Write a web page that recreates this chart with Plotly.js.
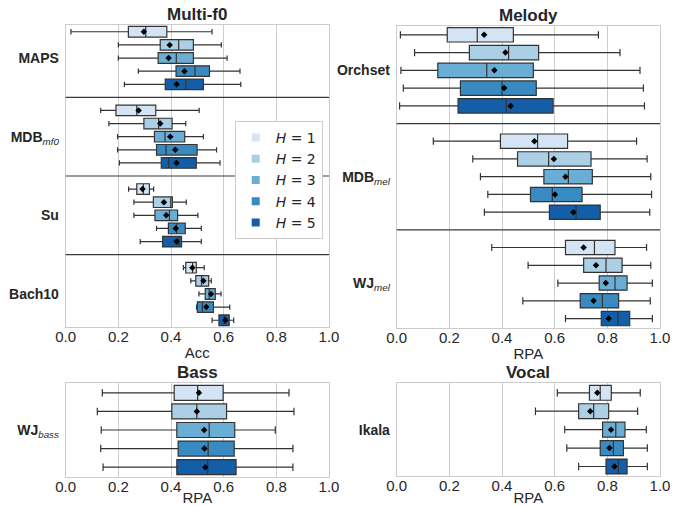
<!DOCTYPE html>
<html>
<head>
<meta charset="utf-8">
<script src="https://cdn.plot.ly/plotly-3.0.1.min.js"></script>
<style>html,body{margin:0;padding:0;background:#fff;}#chart{width:679px;height:506px;}</style>
</head>
<body>
<div id="chart"></div>
<script>
// ---------- data ----------
const hueNames = ['<i>H</i> = 1', '<i>H</i> = 2', '<i>H</i> = 3', '<i>H</i> = 4', '<i>H</i> = 5'];
const hueColors = ['#d4e4f4', '#abcfe5', '#6aaed6', '#3a8ac2', '#135ea6'];

// Multi-f0 (Acc)
const mf0Cats = ['<b>MAPS</b>', '<b>MDB</b><sub><i>mf0</i></sub>', '<b>Su</b>', '<b>Bach10</b>'];
// each row = one H, each column = one category
const mf0Lo   = [[0.020, 0.133, 0.239, 0.447], [0.200, 0.164, 0.259, 0.475], [0.200, 0.197, 0.259, 0.506], [0.276, 0.197, 0.345, 0.497], [0.223, 0.204, 0.283, 0.556]];
const mf0Q1   = [[0.238, 0.191, 0.270, 0.456], [0.359, 0.297, 0.333, 0.494], [0.351, 0.337, 0.339, 0.530], [0.419, 0.345, 0.390, 0.500], [0.378, 0.363, 0.368, 0.582]];
const mf0Med  = [[0.304, 0.270, 0.295, 0.482], [0.429, 0.353, 0.399, 0.516], [0.420, 0.377, 0.394, 0.545], [0.491, 0.381, 0.421, 0.519], [0.457, 0.391, 0.430, 0.602]];
const mf0Q3   = [[0.384, 0.342, 0.318, 0.496], [0.485, 0.404, 0.405, 0.543], [0.485, 0.452, 0.425, 0.568], [0.546, 0.499, 0.454, 0.561], [0.523, 0.496, 0.440, 0.621]];
const mf0Hi   = [[0.556, 0.507, 0.334, 0.526], [0.591, 0.456, 0.458, 0.553], [0.613, 0.523, 0.502, 0.590], [0.662, 0.573, 0.515, 0.623], [0.665, 0.586, 0.515, 0.638]];
const mf0Mean = [[0.297, 0.277, 0.292, 0.481], [0.395, 0.359, 0.373, 0.523], [0.391, 0.397, 0.382, 0.552], [0.451, 0.416, 0.418, 0.534], [0.421, 0.421, 0.421, 0.606]];

// Melody (RPA)
const melCats = ['<b>Orchset</b>', '<b>MDB</b><sub><i>mel</i></sub>', '<b>WJ</b><sub><i>mel</i></sub>'];
const melLo   = [[0.014, 0.139, 0.361], [0.068, 0.289, 0.499], [0.016, 0.318, 0.612], [0.025, 0.346, 0.479], [0.011, 0.333, 0.641]];
const melQ1   = [[0.192, 0.394, 0.641], [0.276, 0.459, 0.710], [0.156, 0.559, 0.769], [0.242, 0.508, 0.697], [0.233, 0.580, 0.777]];
const melMed  = [[0.306, 0.535, 0.751], [0.425, 0.577, 0.795], [0.342, 0.652, 0.829], [0.400, 0.591, 0.781], [0.416, 0.681, 0.840]];
const melQ3   = [[0.443, 0.649, 0.829], [0.539, 0.738, 0.856], [0.519, 0.743, 0.875], [0.530, 0.704, 0.843], [0.594, 0.773, 0.885]];
const melHi   = [[0.766, 0.911, 0.949], [0.848, 0.951, 0.965], [0.924, 0.965, 0.971], [0.937, 0.968, 0.963], [0.941, 0.961, 0.971]];
const melMean = [[0.332, 0.523, 0.710], [0.413, 0.597, 0.757], [0.371, 0.641, 0.794], [0.408, 0.601, 0.748], [0.433, 0.671, 0.805]];

// Bass (RPA)
const bassCats = ['<b>WJ</b><sub><i>bass</i></sub>'];
const bassLo   = [[0.139], [0.120], [0.135], [0.133], [0.142]];
const bassQ1   = [[0.412], [0.403], [0.422], [0.427], [0.422]];
const bassMed  = [[0.501], [0.498], [0.545], [0.541], [0.539]];
const bassQ3   = [[0.598], [0.611], [0.642], [0.640], [0.647]];
const bassHi   = [[0.848], [0.867], [0.796], [0.863], [0.863]];
const bassMean = [[0.506], [0.498], [0.526], [0.527], [0.530]];

// Vocal (RPA)
const vocCats = ['<b>Ikala</b>'];
const vocLo   = [[0.610], [0.527], [0.638], [0.646], [0.691]];
const vocQ1   = [[0.732], [0.691], [0.782], [0.773], [0.795]];
const vocMed  = [[0.773], [0.748], [0.832], [0.823], [0.842]];
const vocQ3   = [[0.815], [0.805], [0.867], [0.861], [0.875]];
const vocHi   = [[0.925], [0.915], [0.948], [0.952], [0.952]];
const vocMean = [[0.762], [0.735], [0.814], [0.808], [0.827]];

// ---------- build ----------
const HUE_STEP = 0.167;   // dodge spacing in category units
const BOX_W = 0.135;      // box thickness in category units
const LINE = '#333333';
const TXT = '#262626';
const FONT = 'Liberation Sans, Arial, sans-serif';

const panels = [
  {ax: '', cats: mf0Cats, lo: mf0Lo, q1: mf0Q1, med: mf0Med, q3: mf0Q3, hi: mf0Hi, mean: mf0Mean, title: 'Multi-f0', xt: 'Acc',
   dx: [65.7, 329], dy: [25, 327]},
  {ax: '2', cats: melCats, lo: melLo, q1: melQ1, med: melMed, q3: melQ3, hi: melHi, mean: melMean, title: 'Melody', xt: 'RPA',
   dx: [396.7, 660], dy: [25.7, 327.7]},
  {ax: '3', cats: bassCats, lo: bassLo, q1: bassQ1, med: bassMed, q3: bassQ3, hi: bassHi, mean: bassMean, title: 'Bass', xt: 'RPA',
   dx: [65.7, 329], dy: [383.3, 476.7]},
  {ax: '4', cats: vocCats, lo: vocLo, q1: vocQ1, med: vocMed, q3: vocQ3, hi: vocHi, mean: vocMean, title: 'Vocal', xt: 'RPA',
   dx: [396.7, 660], dy: [383.3, 476]}
];

const W = 679, H = 506;
const traces = [];
const layout = {
  width: W, height: H,
  margin: {l: 0, r: 0, t: 0, b: 0},
  paper_bgcolor: '#ffffff', plot_bgcolor: '#ffffff',
  showlegend: true,
  font: {family: FONT, color: TXT, size: 15},
  shapes: [], annotations: [],
  legend: {
    x: 234.7 / W, y: 1 - 121 / H, xanchor: 'left', yanchor: 'top',
    bgcolor: '#ffffff', bordercolor: '#cccccc', borderwidth: 1,
    font: {family: 'DejaVu Sans, sans-serif', size: 14, color: TXT},
    itemwidth: 30, tracegroupgap: 0
  }
};

panels.forEach(p => {
  const xa = 'x' + p.ax, ya = 'y' + p.ax;
  const n = p.cats.length;
  for (let h = 0; h < 5; h++) {
    const pos = p.cats.map((c, i) => i + (h - 2) * HUE_STEP);
    traces.push({
      type: 'box', orientation: 'h', xaxis: xa, yaxis: ya,
      y: pos, q1: p.q1[h], median: p.med[h], q3: p.q3[h],
      lowerfence: p.lo[h], upperfence: p.hi[h],
      width: BOX_W, whiskerwidth: 0.5,
      fillcolor: hueColors[h], line: {color: LINE, width: 1.2},
      boxpoints: false, showlegend: false, hoverinfo: 'skip'
    });
    traces.push({
      type: 'scatter', mode: 'markers', xaxis: xa, yaxis: ya,
      x: p.mean[h], y: pos,
      marker: {symbol: 'diamond', size: 5, color: '#000000'},
      showlegend: false, hoverinfo: 'skip'
    });
  }
  const xkey = 'xaxis' + p.ax, ykey = 'yaxis' + p.ax;
  layout[xkey] = {
    domain: [p.dx[0] / W, p.dx[1] / W], anchor: ya,
    range: [0, 1], dtick: 0.2, tick0: 0, tickformat: '.1f',
    showgrid: true, gridcolor: '#cccccc', gridwidth: 1,
    zeroline: false, showline: true, mirror: true, linecolor: '#cccccc', linewidth: 1,
    ticks: '', ticklabelstandoff: -4, tickfont: {family: FONT, size: 15, color: TXT},
    title: {text: p.xt, font: {family: FONT, size: 15, color: TXT}, standoff: 3}
  };
  layout[ykey] = {
    domain: [1 - p.dy[1] / H, 1 - p.dy[0] / H], anchor: xa,
    range: [n - 1 + 0.42, -0.42],
    tickvals: p.cats.map((c, i) => i), ticktext: p.cats,
    showgrid: false, zeroline: false, showline: true, mirror: true, linecolor: '#cccccc', linewidth: 1,
    ticks: '', ticklabelstandoff: 3,
    tickfont: {family: FONT, size: 14, color: TXT}
  };
  for (let i = 0; i < n - 1; i++) {
    layout.shapes.push({
      type: 'line', xref: xa + ' domain', yref: ya, x0: 0, x1: 1, y0: i + 0.5, y1: i + 0.5,
      line: {color: '#3a3a3a', width: 1.2}
    });
  }
  layout.annotations.push({
    text: '<b>' + p.title + '</b>', xref: xa + ' domain', yref: ya + ' domain', x: 0.5, y: 1,
    xanchor: 'center', yanchor: 'bottom', yshift: -1, showarrow: false,
    font: {family: FONT, size: 17, color: TXT}
  });
});

// legend proxies (square patches)
for (let h = 0; h < 5; h++) {
  traces.push({
    type: 'scatter', mode: 'markers', x: [null], y: [null], xaxis: 'x', yaxis: 'y',
    name: hueNames[h], marker: {symbol: 'square', size: 8, color: hueColors[h]},
    showlegend: true, hoverinfo: 'skip'
  });
}

Plotly.newPlot('chart', traces, layout, {staticPlot: true, displayModeBar: false});
</script>
</body>
</html>
